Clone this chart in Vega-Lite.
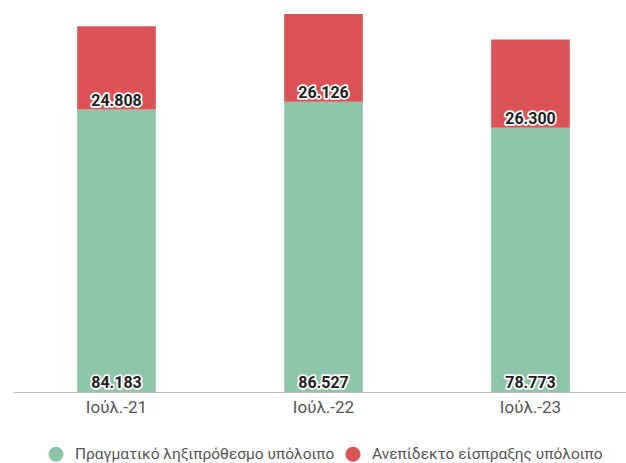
{
  "$schema": "https://vega.github.io/schema/vega-lite/v6.json",
  "autosize": "none",
  "width": 621,
  "height": 378,
  "padding": {"left": 13, "top": 14, "right": 0, "bottom": 71},
  "background": "white",
  "config": {
    "font": "Roboto",
    "view": {"stroke": null},
    "locale": {"number": {"decimal": ",", "thousands": ".", "grouping": [3], "currency": ["", " €"]}}
  },
  "data": {
    "values": [
      {"date": "Ιούλ.-21", "series": "Πραγματικό ληξιπρόθεσμο υπόλοιπο", "value": 84183},
      {"date": "Ιούλ.-21", "series": "Ανεπίδεκτο είσπραξης υπόλοιπο", "value": 24808},
      {"date": "Ιούλ.-22", "series": "Πραγματικό ληξιπρόθεσμο υπόλοιπο", "value": 86527},
      {"date": "Ιούλ.-22", "series": "Ανεπίδεκτο είσπραξης υπόλοιπο", "value": 26126},
      {"date": "Ιούλ.-23", "series": "Πραγματικό ληξιπρόθεσμο υπόλοιπο", "value": 78773},
      {"date": "Ιούλ.-23", "series": "Ανεπίδεκτο είσπραξης υπόλοιπο", "value": 26300}
    ]
  },
  "transform": [
    {"stack": "value", "groupby": ["date"], "sort": [{"field": "series", "order": "descending"}], "as": ["v0", "v1"]}
  ],
  "encoding": {
    "x": {
      "field": "date", "type": "nominal", "sort": null,
      "scale": {"paddingInner": 0.62, "paddingOuter": 0.31},
      "axis": {
        "title": null, "labelAngle": 0, "ticks": false, "grid": false,
        "domainColor": "#bdbdbd", "domainWidth": 1,
        "labelFont": "Roboto", "labelFontSize": 17, "labelColor": "#555555", "labelPadding": 7
      }
    }
  },
  "layer": [
    {
      "mark": {"type": "bar"},
      "encoding": {
        "y": {"field": "v0", "type": "quantitative", "scale": {"nice": false, "zero": true}, "axis": null},
        "y2": {"field": "v1"},
        "color": {
          "field": "series", "type": "nominal",
          "scale": {
            "domain": ["Πραγματικό ληξιπρόθεσμο υπόλοιπο", "Ανεπίδεκτο είσπραξης υπόλοιπο"],
            "range": ["#8ec6a9", "#dc5355"]
          },
          "legend": {
            "title": null, "orient": "none", "legendX": 35, "legendY": 432,
            "direction": "horizontal", "symbolType": "circle", "symbolSize": 230,
            "symbolStrokeWidth": 0, "labelFont": "Roboto", "labelFontSize": 15.5,
            "labelColor": "#555555", "labelLimit": 0, "labelOffset": 11, "columnPadding": 10
          }
        }
      }
    },
    {
      "mark": {"type": "text", "baseline": "alphabetic", "dy": -4, "fontSize": 16, "fontWeight": "bold", "font": "Roboto", "stroke": "white", "strokeWidth": 3.5, "strokeJoin": "round", "fill": "white"},
      "encoding": {
        "y": {"field": "v0", "type": "quantitative"},
        "text": {"field": "value", "type": "quantitative", "format": ",d"}
      }
    },
    {
      "mark": {"type": "text", "baseline": "alphabetic", "dy": -4, "fontSize": 16, "fontWeight": "bold", "font": "Roboto", "fill": "#1e1e1e"},
      "encoding": {
        "y": {"field": "v0", "type": "quantitative"},
        "text": {"field": "value", "type": "quantitative", "format": ",d"}
      }
    }
  ]
}
